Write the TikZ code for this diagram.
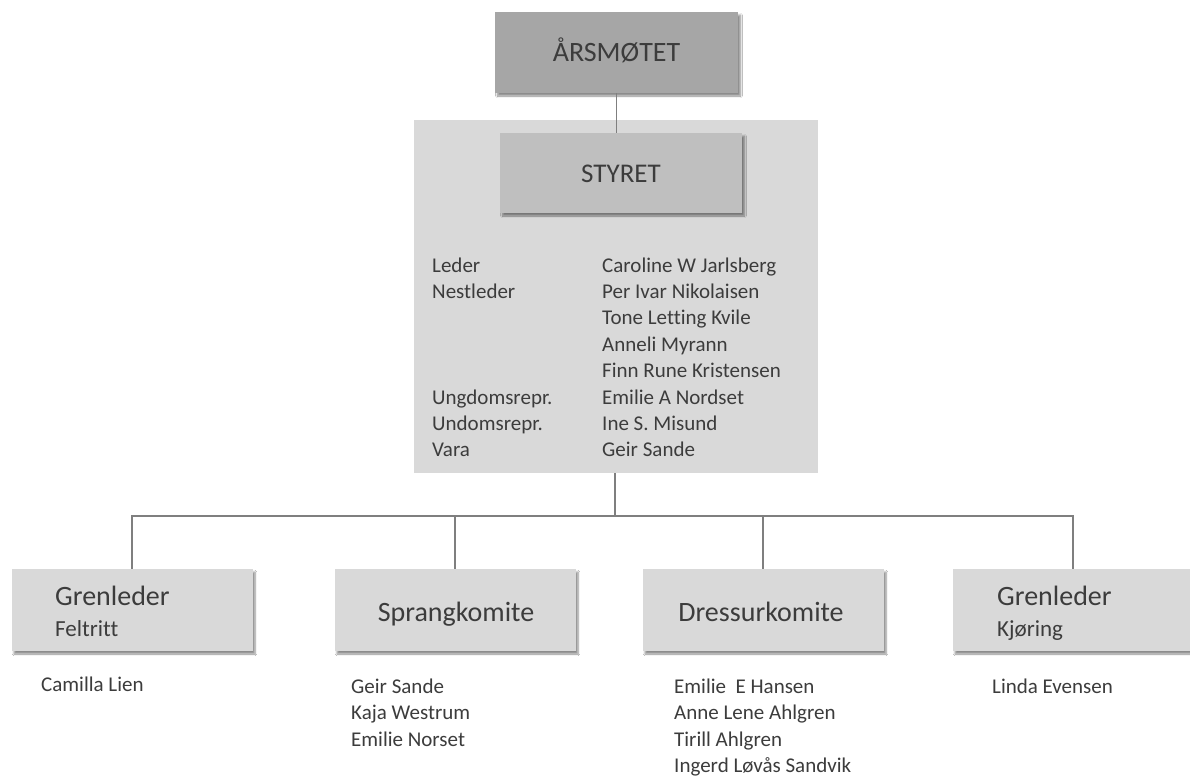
\documentclass[tikz,border=0pt]{standalone}
\usepackage{fontspec}
\setmainfont[Ligatures=NoCommon]{Carlito}
\usetikzlibrary{shadows.blur}
\definecolor{txt}{HTML}{3C3C3C}
\definecolor{linegrey}{HTML}{7F7F7F}
\definecolor{darkbox}{HTML}{A6A6A6}
\definecolor{midbox}{HTML}{BFBFBF}
\definecolor{lightbox}{HTML}{D9D9D9}
\begin{document}
\begin{tikzpicture}[x=1pt,y=-1pt,
  box/.style={draw=none, inner sep=0pt, minimum width=241pt, minimum height=82pt, fill=lightbox,
    blur shadow={shadow xshift=2.5pt, shadow yshift=-3pt, shadow blur steps=6, shadow opacity=45}},
  body/.style={anchor=base west, inner sep=0pt, text=txt, font=\fontsize{21}{26}\selectfont},
  title/.style={anchor=base, inner sep=0pt, text=txt, font=\fontsize{28}{34}\selectfont},
  ltitle/.style={anchor=base west, inner sep=0pt, text=txt, font=\fontsize{28}{34}\selectfont},
  sub/.style={anchor=base west, inner sep=0pt, text=txt, font=\fontsize{23}{28}\selectfont},
  conn/.style={draw=linegrey, line width=1.2pt}]
\useasboundingbox (0,0) rectangle (1190,776);
\fill[white] (0,0) rectangle (1190,776);

% panel
\node[fill=lightbox, inner sep=0pt, minimum width=404pt, minimum height=353pt] (panel) at (616,296.5) {};

% top boxes
\node[box, fill=darkbox, minimum width=243pt, minimum height=81pt] (aarsmotet) at (616.5,52.5) {};
\node[title] (taarsmotet) at (616.5,62) {ÅRSMØTET};
\node[box, fill=midbox, minimum width=242pt, minimum height=80pt] (styret) at (621,173) {};
\node[title, font=\fontsize{27}{32}\selectfont] (tstyret) at (621,182) {STYRET};
\draw[conn] (aarsmotet.south) -- (aarsmotet.south |- styret.north);

% panel text
\node[body] (r1a) at (432,272) {Leder};
\node[body] (r2a) at (432,298.4) {Nestleder};
\node[body] (r6a) at (432,404) {Ungdomsrepr.};
\node[body] (r7a) at (432,430.4) {Undomsrepr.};
\node[body] (r8a) at (432,456.8) {Vara};
\node[body] (r1b) at (602,272) {Caroline W Jarlsberg};
\node[body] (r2b) at (602,298.4) {Per Ivar Nikolaisen};
\node[body] (r3b) at (602,324.8) {Tone Letting Kvile};
\node[body] (r4b) at (602,351.2) {Anneli Myrann};
\node[body] (r5b) at (602,377.6) {Finn Rune Kristensen};
\node[body] (r6b) at (602,404) {Emilie A Nordset};
\node[body] (r7b) at (602,430.4) {Ine S. Misund};
\node[body] (r8b) at (602,456.8) {Geir Sande};

% child boxes
\node[box] (b1) at (132,610) {};
\node[box] (b2) at (455,610) {};
\node[box] (b3) at (763,610) {};
\node[box] (b4) at (1073,610) {};

\node[ltitle] (t1) at (55,605) {Grenleder};
\node[sub] (s1) at (55,636) {Feltritt};
\node[title] (t2) at (456,621) {Sprangkomite};
\node[title] (t3) at (761,621) {Dressurkomite};
\node[ltitle] (t4) at (997,605) {Grenleder};
\node[sub] (s4) at (997,636) {Kjøring};

% connectors
\coordinate (bus) at (615,516);
\draw[conn] (panel.south -| bus) -- (bus);
\draw[conn] (b1.north) |- (bus) -| (b4.north);
\draw[conn] (bus) -| (b2.north);
\draw[conn] (bus) -| (b3.north);

% member lists
\node[body] (m1) at (41,691) {Camilla Lien};
\node[body] (m2a) at (351,693) {Geir Sande};
\node[body] (m2b) at (351,719.5) {Kaja Westrum};
\node[body] (m2c) at (351,746) {Emilie Norset};
\node[body] (m3a) at (674,693) {Emilie\ \ E Hansen};
\node[body] (m3b) at (674,719.5) {Anne Lene Ahlgren};
\node[body] (m3c) at (674,746) {Tirill Ahlgren};
\node[body] (m3d) at (674,772.5) {Ingerd Løvås Sandvik};
\node[body] (m4) at (992,693) {Linda Evensen};
\end{tikzpicture}
\end{document}
